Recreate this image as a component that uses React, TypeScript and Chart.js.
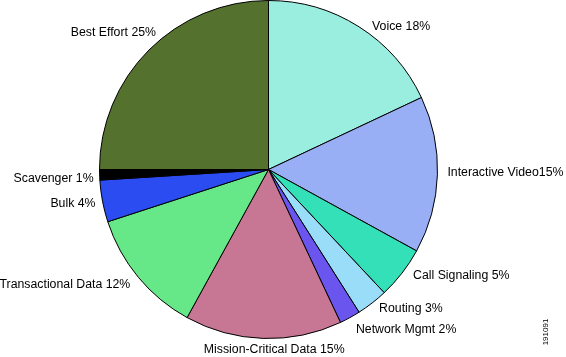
import React, { useEffect, useRef } from "react";
import { Chart, registerables } from "chart.js";

Chart.register(...registerables);

const categories = [
  "Voice",
  "Interactive Video",
  "Call Signaling",
  "Routing",
  "Network Mgmt",
  "Mission-Critical Data",
  "Transactional Data",
  "Bulk",
  "Scavenger",
  "Best Effort",
];
const shares = [18, 15, 5, 3, 2, 15, 12, 4, 1, 25];
const labelTexts = [
  "Voice 18%",
  "Interactive Video15%",
  "Call Signaling 5%",
  "Routing 3%",
  "Network Mgmt 2%",
  "Mission-Critical Data 15%",
  "Transactional Data 12%",
  "Bulk 4%",
  "Scavenger 1%",
  "Best Effort 25%",
];
const sliceColors = [
  "#9AEEE0",
  "#99AFF5",
  "#33E0B8",
  "#99DDF8",
  "#6A55EE",
  "#C77794",
  "#66E888",
  "#2A4CF0",
  "#000000",
  "#54722E",
];
const figureId = "191091";

// label nudges relative to each slice's outer mid-point (layout only)
const labelNudges: [number, number][] = [
  [13, 0],
  [10, -2],
  [11, 3],
  [7, 6],
  [6, 12],
  [11, 11],
  [-8, 7],
  [-7, 2],
  [-6, 4],
  [7, -17],
];

const labelPlugin = {
  id: "sliceLabels",
  afterDraw(chart: any) {
    const ctx = chart.ctx;
    const meta = chart.getDatasetMeta(0);
    ctx.save();
    ctx.font = '12.3px "Liberation Sans", Arial, sans-serif';
    ctx.fillStyle = "#000";
    ctx.textBaseline = "middle";
    meta.data.forEach((arc: any, i: number) => {
      const { x, y, startAngle, endAngle, outerRadius } = arc.getProps(
        ["x", "y", "startAngle", "endAngle", "outerRadius"],
        true
      );
      const mid = (startAngle + endAngle) / 2;
      const c = Math.cos(mid);
      const s = Math.sin(mid);
      const ex = x + c * outerRadius;
      const ey = y + s * outerRadius;
      const [dx, dy] = labelNudges[i] || [0, 0];
      ctx.textAlign = Math.abs(c) < 0.1 ? "center" : c > 0 ? "left" : "right";
      ctx.fillText(labelTexts[i], ex + dx, ey + dy);
    });
    // figure id, rotated
    ctx.font = '8px "Liberation Sans", Arial, sans-serif';
    ctx.translate(chart.width - 20, chart.height - 25);
    ctx.rotate(-Math.PI / 2);
    ctx.textAlign = "center";
    ctx.fillText(figureId, 0, 0);
    ctx.restore();
  },
};

export default function App() {
  const ref = useRef<HTMLCanvasElement | null>(null);
  useEffect(() => {
    document.body.style.margin = "0";
    const chart = new Chart(ref.current as HTMLCanvasElement, {
      type: "pie",
      data: {
        labels: categories,
        datasets: [
          {
            data: shares,
            backgroundColor: sliceColors,
            borderColor: "#000",
            borderWidth: 1,
          },
        ],
      },
      options: {
        animation: false,
        responsive: false,
        maintainAspectRatio: false,
        layout: { padding: { left: 99, right: 128, top: 0, bottom: 18 } },
        plugins: {
          legend: { display: false },
          tooltip: { enabled: false },
        },
      },
      plugins: [labelPlugin],
    });
    return () => chart.destroy();
  }, []);
  return (
    <div style={{ width: 566, height: 357, background: "#fff" }}>
      <canvas ref={ref} width={566} height={357} />
    </div>
  );
}
